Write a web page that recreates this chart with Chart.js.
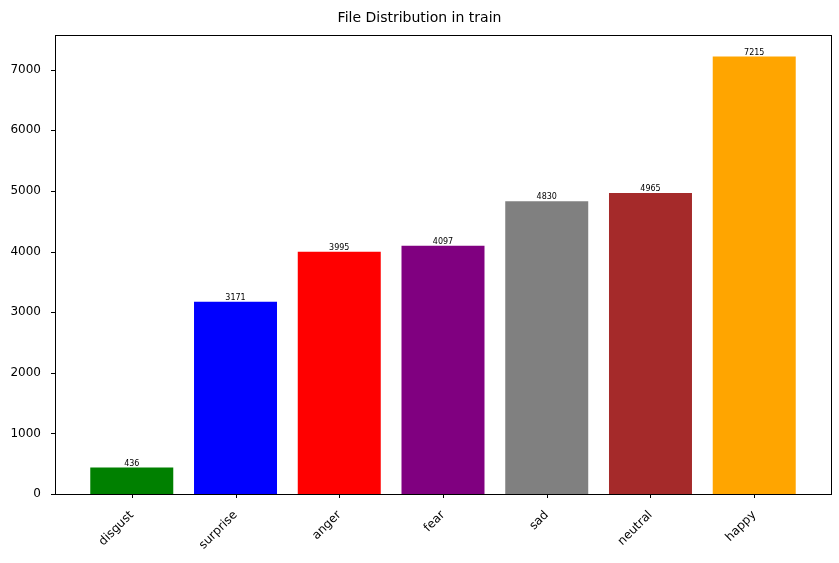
<!DOCTYPE html>
<html><head><script src="https://cdn.jsdelivr.net/npm/chart.js@4"></script>
<style>body{margin:0;background:#fff}#w{width:839px;height:563px}</style></head>
<body><div id="w"><canvas id="c"></canvas></div>
<script>
const categories=["disgust","surprise","anger","fear","sad","neutral","happy"];
const values=[436,3171,3995,4097,4830,4965,7215];
const colors=["green","blue","red","purple","gray","brown","orange"];
const yTicks=[0,1000,2000,3000,4000,5000,6000,7000];
const font="'DejaVu Sans'";
const valLabels={id:"vl",afterDatasetsDraw(ch){const c=ch.ctx;const m=ch.getDatasetMeta(0);c.save();c.font="8px "+font;c.fillStyle="#000";c.textAlign="center";c.textBaseline="bottom";m.data.forEach((b,i)=>c.fillText(values[i],b.x,b.y));c.restore();}};
const frame={id:"fr",afterDraw(ch){const a=ch.chartArea,c=ch.ctx;c.save();c.strokeStyle="#000";c.lineWidth=1;c.strokeRect(Math.round(a.left)+0.5,Math.round(a.top)+0.5,Math.round(a.right-a.left),Math.round(a.bottom-a.top));
c.beginPath();ch.scales.x.ticks.forEach(t=>{const x=Math.round(ch.scales.x.getPixelForValue(t.value))+0.5;c.moveTo(x,a.bottom);c.lineTo(x,a.bottom+4);});
ch.scales.y.ticks.forEach(t=>{const y=Math.round(ch.scales.y.getPixelForValue(t.value))+0.5;c.moveTo(a.left,y);c.lineTo(a.left-4,y);});c.stroke();c.restore();}};
new Chart(document.getElementById("c"),{type:"bar",
data:{datasets:[{data:values.map((v,i)=>({x:i,y:v})),backgroundColor:colors,borderWidth:0,barPercentage:0.8,categoryPercentage:1}]},
options:{responsive:true,maintainAspectRatio:false,animation:false,
layout:{padding:{left:8,right:8,top:4,bottom:0}},
plugins:{legend:{display:false},tooltip:{enabled:false},title:{display:true,text:"File Distribution in train",color:"#000",font:{family:font,size:14,weight:"normal"},padding:{top:6,bottom:8}}},
scales:{x:{type:"linear",offset:false,min:-0.74,max:6.74,grid:{display:false},border:{display:false},
afterBuildTicks(s){s.ticks=categories.map((_,i)=>({value:i}));},
afterFit(s){s.height=69;},
ticks:{color:"#000",font:{family:font,size:12},minRotation:45,maxRotation:45,padding:6,callback:v=>categories[v]}},
y:{min:0,max:7575,grid:{display:false},border:{display:false},
afterBuildTicks(s){s.ticks=yTicks.map(v=>({value:v}));},
afterFit(s){s.width=47;},
ticks:{color:"#000",font:{family:font,size:12},padding:6,callback:v=>String(v)}}}},
plugins:[valLabels,frame]});
</script></body></html>
